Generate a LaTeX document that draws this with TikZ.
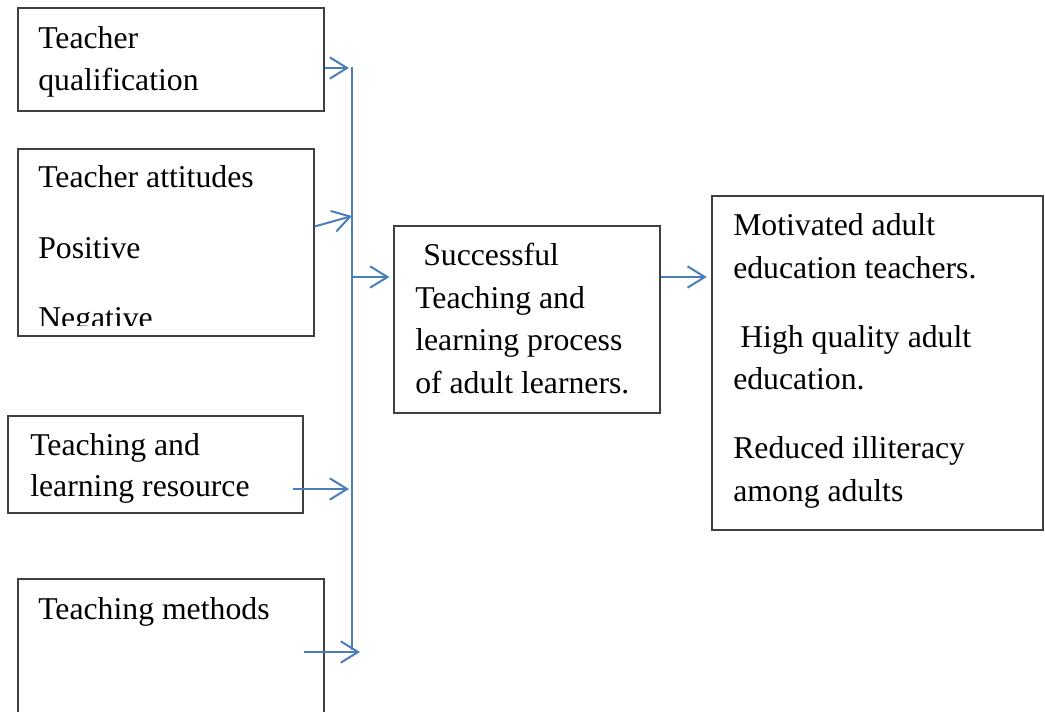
\documentclass[tikz,border=0pt]{standalone}
\usepackage{fontspec}
\setmainfont{Liberation Serif}
\usetikzlibrary{arrows.meta}

\definecolor{linkblue}{RGB}{74,126,187}
\definecolor{boxgray}{RGB}{64,64,64}

\tikzset{
  box/.style={draw=boxgray, line width=0.9pt, rectangle, inner sep=0pt},
  txt/.style={anchor=base west, inner sep=0pt, font=\fontsize{23.8pt}{28pt}\selectfont},
  link/.style={draw=linkblue, line width=1.5pt,
    -{Straight Barb[length=13pt, width=16pt, line width=1.5pt]}},
  bus/.style={draw=linkblue, line width=1.5pt}
}

\begin{document}
\begin{tikzpicture}[x=0.75pt, y=-0.75pt]

\def\BUSX{352}
	\clip (0,0) rectangle (1045,711);

	% left hand boxes
	\node[box, minimum width=229.5pt, minimum height=77.25pt] (qual) at (171,59.5) {};
	\node[box, minimum width=222pt, minimum height=140.25pt] (attit) at (166,242.5) {};
	\node[box, minimum width=221.25pt, minimum height=72.75pt] (resrc) at (155.5,464.5) {};
	\node[box, minimum width=229.5pt, minimum height=135.75pt] (methods) at (171,669.5) {};

	% middle and right boxes
	\node[box, minimum width=199.5pt, minimum height=140.25pt] (process) at (527,319.5) {};
	\node[box, minimum width=248.25pt, minimum height=250.5pt] (outcome) at (877.5,363) {};

	\node[txt] (qualA) at (38,48) {Teacher};
	\node[txt] (qualB) at (38,90) {qualification};

	\node[txt] (attitA) at (38,187) {Teacher attitudes};
	\node[txt] (attitB) at (38,258) {Positive};
	\begin{scope}
	\clip (18,149) rectangle (314,325.5);
	\node[txt] (attitC) at (38,328) {Negative};
	\end{scope}

	\node[txt] (resrcA) at (30,455) {Teaching and};
	\node[txt] (resrcB) at (30,496) {learning resource};

	\node[txt] (methodsA) at (38,619) {Teaching methods};

	\node[txt] (processA) at (423,265) {Successful};
	\node[txt] (processB) at (415,308) {Teaching and};
	\node[txt] (processC) at (415,350) {learning process};
	\node[txt] (processD) at (415,393) {of adult learners.};

	\node[txt] (outcomeA) at (733,235) {Motivated adult};
	\node[txt] (outcomeB) at (733,278) {education teachers.};
	\node[txt] (outcomeC) at (740,347) {High quality adult};
	\node[txt] (outcomeD) at (733,389) {education.};
	\node[txt] (outcomeE) at (733,458) {Reduced illiteracy};
	\node[txt] (outcomeF) at (733,501) {among adults};

	% the collecting line
	\coordinate (busTop) at (\BUSX,67);
	\coordinate (busBot) at (\BUSX,650);
	\coordinate (inA) at (349,68);
	\coordinate (inB) at (\BUSX,216);
	\coordinate (tap) at (\BUSX,277);
	\coordinate (inC) at (349,489);
	\coordinate (inD) at (360,652);
	\draw[bus] (busTop) -- (busBot);

	\draw[link] (qual.east |- inA) -- (inA);
	\draw[link] ([yshift=12pt]attit.east) -- (inB);
	\draw[link] ([xshift=-8.25pt]resrc.east |- inC) -- (inC);
	\draw[link] ([xshift=-15.75pt]methods.east |- inD) -- (inD);
	\draw[link] (tap) -- ([xshift=-3pt]tap -| process.west);
	\draw[link] (process.east |- tap) -- ([xshift=-3.5pt]outcome.west |- tap);

\end{tikzpicture}
\end{document}
